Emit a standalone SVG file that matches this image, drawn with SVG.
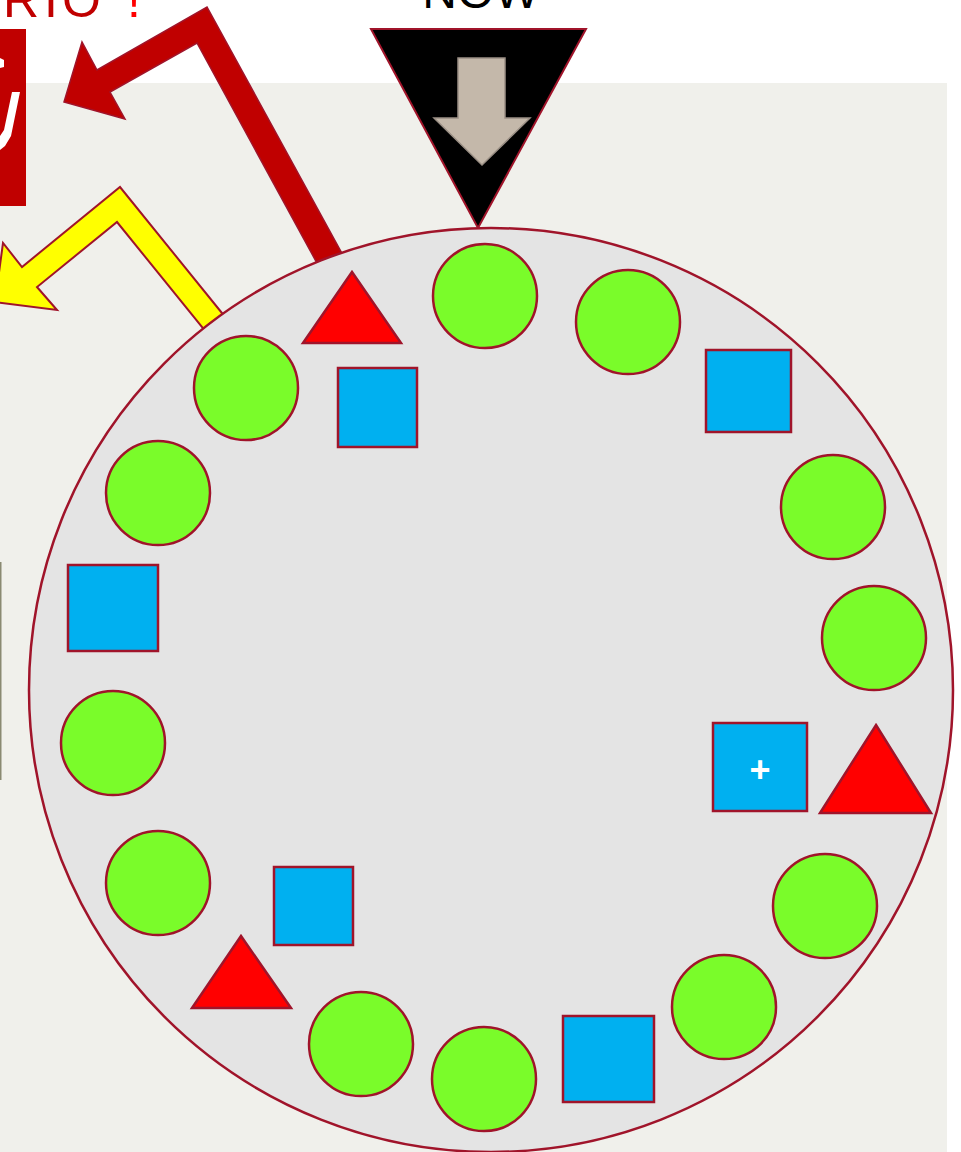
<svg xmlns="http://www.w3.org/2000/svg" width="961" height="1152" viewBox="0 0 961 1152">
<style>
.g{fill:#7AFC2A;stroke:#A0142A;stroke-width:2.5}
.b{fill:#00B0F0;stroke:#A0142A;stroke-width:2.5}
.t{fill:#FF0000;stroke:#A0142A;stroke-width:2.5;stroke-linejoin:miter}
</style>
<rect x="0" y="0" width="961" height="1152" fill="#FFFFFF"/>
<rect x="0" y="83" width="947" height="1069" fill="#F0F0EB"/>
<g id="title-left">
<text x="3" y="17" font-family="Liberation Sans, Arial, sans-serif" font-size="50" fill="#C00000">R<tspan x="44">I</tspan><tspan x="62">O</tspan><tspan x="127" fill="#FF0000">!</tspan></text>
</g>
<g id="title-now">
<text x="481" y="8" font-family="Liberation Sans, Arial, sans-serif" font-size="48" text-anchor="middle" fill="#000000">NOW</text>
</g>
<g id="red-box">
<rect x="0" y="29" width="26" height="177" fill="#C00000"/>
<polygon points="0,58 4,60 4,67 0,68" fill="#FFFFFF"/>
<polygon points="12,92 20,92 11,136 5,146 0,150 0,136 4,130" fill="#FFFFFF"/>
</g>
<rect id="left-edge" x="0" y="562" width="1.5" height="218" fill="#8A8A72"/>
<g id="connectors">
<polygon points="350,268 207,7 97,70 82,42 64,102 125,119 110,92 197,43 324,276" fill="#C00000" stroke="#A0142A" stroke-width="1.5" stroke-linejoin="miter"/>
<polygon points="230,323 120,187 22,267 3,243 -5,302 57,310 37,287 117,222 210,337" fill="#FFFF00" stroke="#A0142A" stroke-width="2" stroke-linejoin="miter"/>
</g>
<g id="now-marker">
<polygon points="371,29 586,29 478,228" fill="#000000" stroke="#A0142A" stroke-width="2"/>
<polygon points="458,58 505,58 505,118 530,118 482,165 434,118 458,118" fill="#C4B8AA" stroke="#9A8F85" stroke-width="1.5"/>
</g>
<g id="wheel">
<circle cx="491" cy="690" r="462" fill="#E4E4E4" stroke="#A0142A" stroke-width="2.5"/>
</g>
<g id="c1"><circle class="g" cx="485" cy="296" r="52"/></g>
<g id="c2"><circle class="g" cx="628" cy="322" r="52"/></g>
<g id="c3"><circle class="g" cx="833" cy="507" r="52"/></g>
<g id="c4"><circle class="g" cx="874" cy="638" r="52"/></g>
<g id="c5"><circle class="g" cx="825" cy="906" r="52"/></g>
<g id="c6"><circle class="g" cx="724" cy="1007" r="52"/></g>
<g id="c7"><circle class="g" cx="484" cy="1079" r="52"/></g>
<g id="c8"><circle class="g" cx="361" cy="1044" r="52"/></g>
<g id="c9"><circle class="g" cx="158" cy="883" r="52"/></g>
<g id="c10"><circle class="g" cx="113" cy="743" r="52"/></g>
<g id="c11"><circle class="g" cx="158" cy="493" r="52"/></g>
<g id="c12"><circle class="g" cx="246" cy="388" r="52"/></g>
<g id="s1"><rect class="b" x="338" y="368" width="79" height="79"/></g>
<g id="s2"><rect class="b" x="706" y="350" width="85" height="82"/></g>
<g id="s3"><rect class="b" x="68" y="565" width="90" height="86"/></g>
<g id="s4"><rect class="b" x="713" y="723" width="94" height="88"/>
<text x="760" y="782" font-family="Liberation Sans, Arial, sans-serif" font-size="36" font-weight="bold" text-anchor="middle" fill="#FFFFFF">+</text></g>
<g id="s5"><rect class="b" x="274" y="867" width="79" height="78"/></g>
<g id="s6"><rect class="b" x="563" y="1016" width="91" height="86"/></g>
<g id="t1"><polygon class="t" points="352,272 401,343 303,343"/></g>
<g id="t2"><polygon class="t" points="876,725 931,813 820,813"/></g>
<g id="t3"><polygon class="t" points="241,936 291,1008 192,1008"/></g>
</svg>
